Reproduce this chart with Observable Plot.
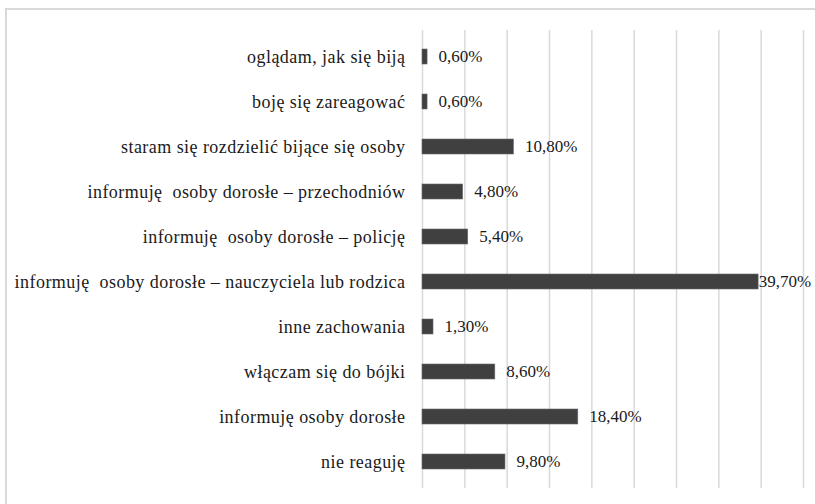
<!DOCTYPE html>
<html>
<head>
<meta charset="utf-8">
<script src="https://cdn.jsdelivr.net/npm/d3@7"></script>
<script src="https://cdn.jsdelivr.net/npm/@observablehq/plot@0.6"></script>
<style>
  html, body { margin: 0; padding: 0; background: #fff; }
  #wrap { position: relative; width: 815px; height: 504px; overflow: hidden; }
  #frame { position: absolute; left: 5px; top: 8px; width: 830px; height: 520px;
           border-top: 2px solid #d9d9d9; border-left: 2px solid #d9d9d9; }
  #chart { position: absolute; left: 0; top: 0; }
  #chart svg, #chart svg text { font-family: "Liberation Serif", "Times New Roman", serif !important; }
  #chart svg g[aria-label="y-axis tick label"] text { letter-spacing: 0.45px; }
</style>
</head>
<body>
<div id="wrap">
  <div id="frame"></div>
  <div id="chart"></div>
</div>
<script>
const categories = [
  "oglądam, jak się biją",
  "boję się zareagować",
  "staram się rozdzielić bijące się osoby",
  "informuję  osoby dorosłe – przechodniów",
  "informuję  osoby dorosłe – policję",
  "informuję  osoby dorosłe – nauczyciela lub rodzica",
  "inne zachowania",
  "włączam się do bójki",
  "informuję osoby dorosłe",
  "nie reaguję"
];
const values = [0.6, 0.6, 10.8, 4.8, 5.4, 39.7, 1.3, 8.6, 18.4, 9.8];
const xTicks = [0, 5, 10, 15, 20, 25, 30, 35, 40, 45];

const data = categories.map((c, i) => ({category: c, value: values[i]}));
const fmt = v => v.toFixed(2).replace(".", ",") + "%";
const longest = d3.max(values);

const chart = Plot.plot({
  width: 815,
  height: 504,
  marginLeft: 422,
  marginRight: 12,
  marginTop: 30,
  marginBottom: 16,
  style: {fontFamily: "Liberation Serif", fontSize: "17px", color: "#1a1a1a", background: "transparent"},
  x: {domain: [0, 45], ticks: xTicks, axis: null},
  y: {domain: categories, paddingInner: 0.672, paddingOuter: 0.336, label: null, tickSize: 0, tickPadding: 17},
  marks: [
    Plot.gridX(xTicks, {stroke: "#d9d9d9", strokeOpacity: 1, strokeWidth: 1.5}),
    Plot.barX(data, {x: "value", y: "category", fill: "#404040", stroke: "#6a6a6a", strokeWidth: 0.6}),
    Plot.text(data.filter(d => d.value < longest), {x: "value", y: "category", text: d => fmt(d.value), textAnchor: "start", dx: 11, fill: "#1a1a1a", fontSize: 17}),
    Plot.text(data.filter(d => d.value === longest), {x: "value", y: "category", text: d => fmt(d.value), textAnchor: "start", dx: 0, fill: "#1a1a1a", fontSize: 17}),
    Plot.axisY({tickSize: 0, tickPadding: 17, label: null, fontSize: 18})
  ]
});
document.getElementById("chart").appendChild(chart);
</script>
</body>
</html>
